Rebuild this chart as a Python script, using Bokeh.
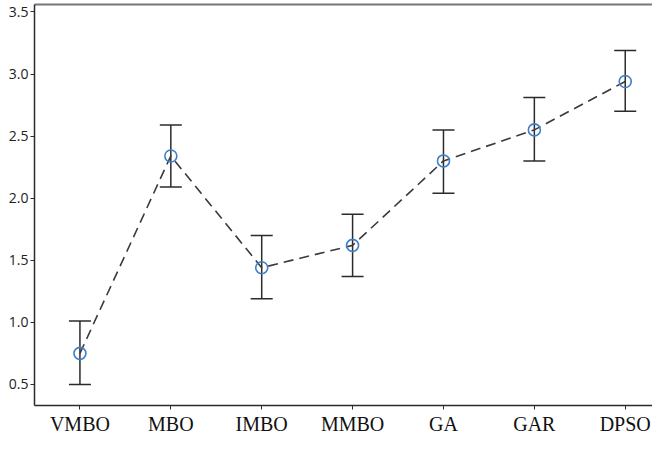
from bokeh.plotting import figure
from bokeh.models import ColumnDataSource, Whisker, TeeHead, FixedTicker, Range1d, LinearAxis, NumeralTickFormatter
from bokeh.embed import file_html
from bokeh.resources import INLINE

categories = ["VMBO", "MBO", "IMBO", "MMBO", "GA", "GAR", "DPSO"]
means = [0.75, 2.34, 1.44, 1.62, 2.30, 2.55, 2.94]
lower = [0.50, 2.09, 1.19, 1.37, 2.04, 2.30, 2.70]
upper = [1.01, 2.59, 1.70, 1.87, 2.55, 2.81, 3.19]
y_ticks = [0.5, 1.0, 1.5, 2.0, 2.5, 3.0, 3.5]

xs = list(range(len(categories)))
src = ColumnDataSource(dict(x=xs, m=means, lo=lower, hi=upper))

p = figure(width=652, height=437, output_backend="svg", toolbar_location=None,
           x_range=Range1d(-0.5, 6.3), y_range=Range1d(0.33, 3.56),
           min_border_left=34, min_border_top=4, min_border_right=0, min_border_bottom=0)
p.outline_line_color = None
p.grid.visible = False
p.background_fill_color = "white"

dark = "#2b2b2b"
p.line("x", "m", source=src, line_color="#3a3a3a", line_width=1.6, line_dash="10 6")

w = Whisker(base="x", lower="lo", upper="hi", source=src, line_color=dark, line_width=1.5,
            upper_head=TeeHead(size=22, line_color=dark, line_width=1.5),
            lower_head=TeeHead(size=22, line_color=dark, line_width=1.5))
p.add_layout(w)

p.scatter("x", "m", source=src, size=12, marker="circle", fill_color=None,
          line_color="#3f7ec8", line_width=1.6)

p.xaxis.ticker = FixedTicker(ticks=xs)
p.xaxis.major_label_overrides = {i: c for i, c in enumerate(categories)}
p.xaxis.minor_tick_line_color = None
p.xaxis.major_tick_in = 0
p.xaxis.major_tick_out = 4
p.xaxis.major_label_text_font = "Liberation Serif"
p.xaxis.major_label_text_font_size = "20px"
p.xaxis.major_label_text_color = "#111111"
p.xaxis.major_label_standoff = 3
p.xaxis.axis_line_color = dark
p.xaxis.axis_line_width = 1.5
p.xaxis.major_tick_line_color = dark

p.yaxis.ticker = FixedTicker(ticks=y_ticks)
p.yaxis.formatter = NumeralTickFormatter(format="0.0")
p.yaxis.minor_tick_line_color = None
p.yaxis.major_tick_in = 0
p.yaxis.major_tick_out = 4
p.yaxis.major_label_text_font = "Open Sans"
p.yaxis.major_label_text_font_size = "14px"
p.yaxis.major_label_text_color = "#222222"
p.yaxis.major_label_standoff = 2
p.yaxis.axis_line_color = dark
p.yaxis.axis_line_width = 1.5
p.yaxis.major_tick_line_color = dark

top = LinearAxis(axis_line_color="#777777", axis_line_width=2, major_tick_line_color=None,
                 minor_tick_line_color=None, ticker=FixedTicker(ticks=[]))
p.add_layout(top, "above")

open("out.html", "w").write(file_html(p, INLINE))
